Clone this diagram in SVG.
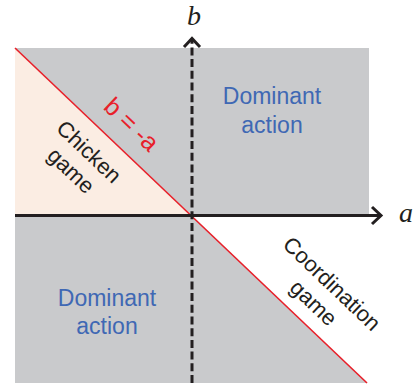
<svg xmlns="http://www.w3.org/2000/svg" width="414" height="390" viewBox="0 0 414 390">
<style>
.lbl{font-family:"Liberation Sans",Arial,Helvetica,sans-serif;font-size:23px;text-anchor:middle}
.blue{fill:#3F68B4}
.dark{fill:#231F20}
.red{fill:#E8202A}
.ax{font-family:"Liberation Serif","Times New Roman",serif;font-style:italic;font-size:28px;fill:#231F20}
.axis{stroke:#231F20;stroke-width:3;fill:none}
</style>
<rect width="414" height="390" fill="#FFFFFF"/>
<g id="regions">
<rect x="15" y="48" width="354" height="335" fill="#C9CACC"/>
<polygon points="15,48 192,216 15,216" fill="#FBEDE3"/>
<polygon points="192,216 369,216 369,383 367,383" fill="#FFFFFF"/>
</g>
<g id="connectors">
<line x1="15" y1="48" x2="367" y2="383" stroke="#E8202A" stroke-width="1.6"/>
<line class="axis" x1="15" y1="215.5" x2="380" y2="215.5"/>
<polyline class="axis" points="372,207 381,215.5 372,224"/>
<line class="axis" x1="192" y1="383" x2="192" y2="40" stroke-dasharray="8,3.7"/>
<polyline class="axis" points="184,47 192,38.5 200,47"/>
</g>
<g id="axis-b"><text class="ax" x="187" y="25">b</text></g>
<g id="axis-a"><text class="ax" x="399" y="222">a</text></g>
<g id="dominant-top"><text class="lbl blue"><tspan x="272" y="104">Dominant</tspan><tspan x="272" y="133">action</tspan></text></g>
<g id="dominant-bottom"><text class="lbl blue"><tspan x="107" y="306">Dominant</tspan><tspan x="107" y="334">action</tspan></text></g>
<g transform="translate(192,216) rotate(43.6)">
<g id="line-label"><text class="lbl red" style="font-size:25px" x="-107" y="-16">b = -a</text></g>
<g id="chicken"><text class="lbl dark" style="font-size:22px"><tspan x="-119" y="32">Chicken</tspan><tspan x="-119" y="58">game</tspan></text></g>
<g id="coordination"><text class="lbl dark" style="font-size:22px"><tspan x="148" y="-40">Coordination</tspan><tspan x="148" y="-13.5">game</tspan></text></g>
</g>
</svg>
